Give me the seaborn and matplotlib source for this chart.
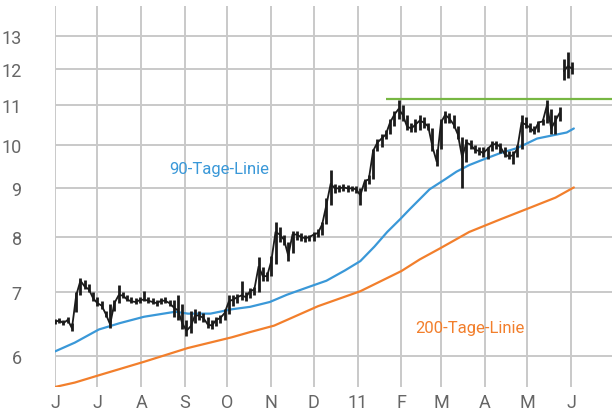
import matplotlib
matplotlib.use('Agg')
import pandas as pd
import matplotlib.pyplot as plt
import seaborn as sns

# daily-ish price bars (every 3 calendar days)
lo = [6.48, 6.50, 6.47, 6.50, 6.38,
      6.68, 6.95, 7.05, 7.00, 6.85,
      6.78, 6.72, 6.60, 6.42, 6.70,
      6.82, 6.90, 6.85, 6.82, 6.80,
      6.82, 6.85, 6.83, 6.80, 6.78,
      6.80, 6.82, 6.78, 6.60, 6.55,
      6.40, 6.30, 6.35, 6.50, 6.55,
      6.52, 6.42, 6.40, 6.45, 6.50,
      6.55, 6.65, 6.78, 6.82, 6.88,
      6.85, 6.90, 6.95, 7.00, 7.20,
      7.20, 7.28, 7.50, 7.90, 7.85,
      7.55, 7.70, 7.95, 7.92, 7.90,
      7.92, 7.92, 8.00, 8.05, 8.25,
      8.65, 8.90, 8.92, 8.95, 8.92,
      8.94, 8.90, 8.65,
      8.95, 9.10, 9.20, 9.85, 9.95,
      10.15, 10.25, 10.45, 10.65, 10.60,
      10.35, 10.30, 10.30, 10.35, 10.40,
      10.35, 9.85, 9.50, 9.90, 10.55,
      10.55, 10.40, 10.15, 9.00, 9.60,
      9.90, 9.80, 9.75, 9.70, 9.65,
      9.85, 9.90, 9.80, 9.70, 9.65,
      9.55, 9.70, 9.90, 10.40, 10.30,
      10.25, 10.30, 10.50, 10.55, 10.25,
      10.25, 10.60, 11.70, 11.75, 11.85]
hi = [6.56, 6.58, 6.55, 6.60, 6.50,
      7.00, 7.25, 7.22, 7.15, 7.00,
      6.92, 6.85, 6.70, 6.80, 6.88,
      7.12, 7.00, 6.95, 6.92, 6.90,
      6.92, 7.02, 6.92, 6.90, 6.88,
      6.90, 6.92, 6.88, 6.88, 6.95,
      6.80, 6.55, 6.70, 6.72, 6.70,
      6.66, 6.60, 6.55, 6.60, 6.62,
      6.72, 6.95, 6.95, 6.98, 7.20,
      7.00, 7.08, 7.10, 7.62, 7.45,
      7.35, 7.65, 8.30, 8.20, 8.05,
      7.90, 8.12, 8.12, 8.08, 8.05,
      8.05, 8.10, 8.15, 8.30, 8.80,
      9.40, 9.10, 9.08, 9.10, 9.08,
      9.06, 9.05, 9.00,
      9.20, 9.30, 9.90, 10.15, 10.25,
      10.35, 10.65, 10.85, 11.15, 11.00,
      10.75, 10.55, 10.65, 10.75, 10.70,
      10.55, 10.40, 9.90, 10.65, 10.85,
      10.80, 10.75, 10.45, 10.20, 10.15,
      10.12, 10.00, 9.95, 9.95, 9.95,
      10.10, 10.10, 10.05, 9.95, 9.85,
      9.85, 10.00, 10.75, 10.70, 10.55,
      10.45, 10.60, 10.65, 11.15, 10.90,
      10.75, 10.95, 12.30, 12.50, 12.20]
cl = [6.52, 6.54, 6.50, 6.55, 6.42,
      6.95, 7.20, 7.10, 7.05, 6.90,
      6.82, 6.78, 6.64, 6.48, 6.82,
      6.95, 6.95, 6.88, 6.85, 6.84,
      6.87, 6.88, 6.86, 6.84, 6.82,
      6.86, 6.86, 6.82, 6.75, 6.70,
      6.50, 6.38, 6.45, 6.62, 6.62,
      6.58, 6.48, 6.46, 6.55, 6.58,
      6.66, 6.85, 6.88, 6.92, 6.95,
      6.92, 7.02, 7.05, 7.45, 7.28,
      7.28, 7.55, 8.10, 8.05, 7.95,
      7.65, 8.05, 8.05, 8.00, 7.98,
      8.00, 8.05, 8.08, 8.25, 8.65,
      9.10, 9.00, 9.00, 9.02, 9.00,
      9.00, 8.98, 8.85,
      9.15, 9.20, 9.85, 10.05, 10.15,
      10.25, 10.55, 10.75, 10.90, 10.75,
      10.45, 10.40, 10.50, 10.60, 10.55,
      10.45, 9.95, 9.60, 10.55, 10.75,
      10.65, 10.50, 10.25, 9.70, 10.05,
      10.00, 9.88, 9.85, 9.80, 9.90,
      10.00, 10.02, 9.95, 9.78, 9.72,
      9.75, 9.90, 10.55, 10.50, 10.42,
      10.32, 10.55, 10.58, 11.00, 10.40,
      10.60, 10.80, 11.95, 12.10, 12.00]

ma90_dates = ['2010-06-01', '2010-06-15', '2010-07-02', '2010-07-17', '2010-08-03',
              '2010-08-25', '2010-09-03', '2010-09-19', '2010-10-04', '2010-10-17',
              '2010-10-31', '2010-11-12', '2010-11-26', '2010-12-10', '2010-12-23',
              '2011-01-03', '2011-01-13', '2011-01-22', '2011-01-31', '2011-02-07',
              '2011-02-21', '2011-03-04', '2011-03-12', '2011-03-21', '2011-03-31',
              '2011-04-12', '2011-04-24', '2011-05-08', '2011-05-22', '2011-05-29',
              '2011-06-03']
ma90 = [6.07, 6.20, 6.40, 6.50, 6.60, 6.68, 6.65, 6.65, 6.72, 6.76,
        6.84, 6.96, 7.08, 7.20, 7.38, 7.55, 7.82, 8.10, 8.35, 8.56,
        8.98, 9.20, 9.37, 9.52, 9.65, 9.80, 9.92, 10.15, 10.25, 10.30,
        10.40]

ma200_dates = ['2010-06-01', '2010-06-15', '2010-07-02', '2010-08-03', '2010-09-03',
               '2010-10-04', '2010-10-17', '2010-11-03', '2010-12-04', '2011-01-03',
               '2011-02-01', '2011-02-14', '2011-02-28', '2011-03-21', '2011-04-12',
               '2011-05-04', '2011-05-21', '2011-06-03']
ma200 = [5.57, 5.63, 5.73, 5.92, 6.12, 6.28, 6.36, 6.46, 6.77, 7.02,
         7.37, 7.58, 7.78, 8.10, 8.35, 8.60, 8.80, 9.02]

resist_level = 11.16
resist_start = '2011-01-21'

month_labels = ['J', 'J', 'A', 'S', 'O', 'N', 'D', '11', 'F', 'M', 'A', 'M', 'J']
y_ticks = [6, 7, 8, 9, 10, 11, 12, 13]

sns.set_style('white')
plt.rcParams['font.family'] = ['Roboto', 'DejaVu Sans']

BLUE = '#3a98d8'
ORANGE = '#f27f2c'
GREEN = '#77b743'
GRID = '#c9c9c9'
TXT = '#666666'

bars = pd.DataFrame({'date': pd.date_range('2010-06-01', periods=len(cl), freq='3D'),
                     'lo': lo, 'hi': hi, 'close': cl})
# the price line breaks at the late-May gap
bars['seg'] = (bars['close'].diff() > 1.0).cumsum()

fig = plt.figure(figsize=(6.12, 4.14), dpi=100)
ax = fig.add_axes([55 / 612, 1 - 388 / 414, 1 - 55 / 612, 381 / 414])

ax.vlines(bars['date'], bars['lo'], bars['hi'], color='#1b1b1b', lw=2.0, zorder=4)
sns.lineplot(data=bars, x='date', y='close', units='seg', estimator=None,
             color='#1b1b1b', lw=1.3, ax=ax, zorder=4)

sns.lineplot(x=pd.to_datetime(ma90_dates), y=ma90, color=BLUE, lw=1.6, ax=ax, zorder=3)
sns.lineplot(x=pd.to_datetime(ma200_dates), y=ma200, color=ORANGE, lw=1.6, ax=ax, zorder=3)

x_end = pd.Timestamp('2011-06-30')
ax.hlines(resist_level, pd.Timestamp(resist_start), x_end, color=GREEN, lw=1.6, zorder=3)

ax.text(pd.Timestamp('2010-08-21'), 9.45, '90-Tage-Linie', color=BLUE,
        fontsize=12, va='center', ha='left')
ax.text(pd.Timestamp('2011-02-11'), 6.43, '200-Tage-Linie', color=ORANGE,
        fontsize=12, va='center', ha='left')

ax.set_yscale('log')
ax.set_ylim(5.57, 13.98)
ax.set_yticks(y_ticks)
ax.set_yticklabels([str(v) for v in y_ticks])
ax.minorticks_off()

ax.set_xlim(pd.Timestamp('2010-06-01'), x_end)
ax.set_xticks(pd.date_range('2010-06-01', '2011-06-01', freq='MS'))
ax.set_xticklabels(month_labels)

ax.grid(True, color=GRID, lw=1.4)
ax.set_axisbelow(True)
for s in ax.spines.values():
    s.set_visible(False)
ax.tick_params(axis='y', length=0, pad=24, labelsize=13, labelcolor=TXT)
ax.tick_params(axis='x', length=0, pad=4, labelsize=13, labelcolor=TXT)
ax.set_xlabel('')
ax.set_ylabel('')

fig.savefig('out.png', dpi=100)
